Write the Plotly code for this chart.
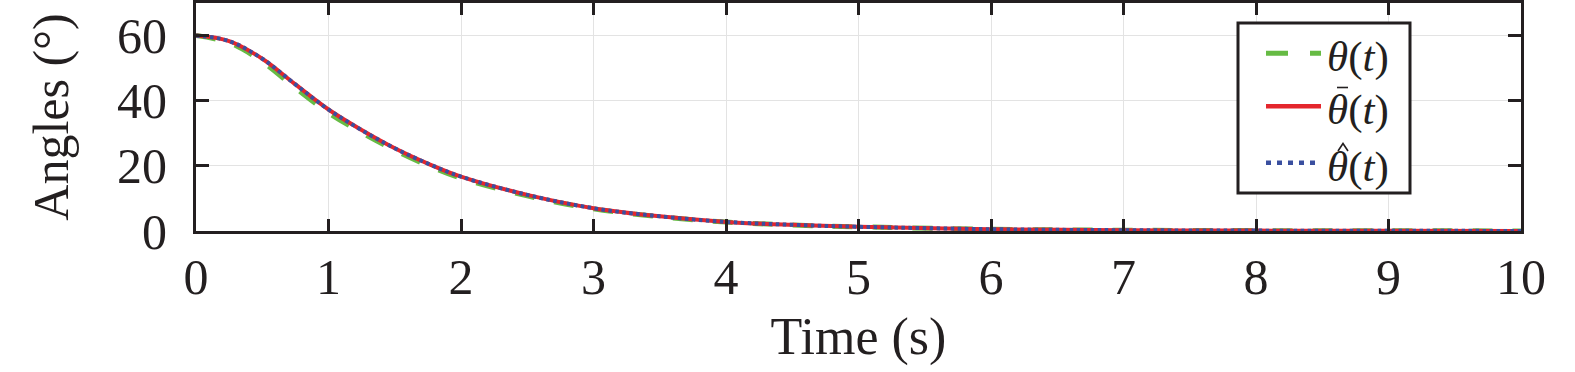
import plotly.graph_objects as go

# ---- data ----
time_s = [0, 0.25, 0.5, 0.75, 1, 1.25, 1.5, 1.75, 2, 2.5, 3, 3.5, 4, 4.5, 5, 6, 7, 8, 9, 10]
theta = [60, 57.8, 52.0, 43.9, 36.3, 30.2, 24.8, 20.1, 16.2, 10.8, 6.8, 4.4, 2.75, 1.85, 1.3, 0.55, 0.25, 0.12, 0.06, 0.03]
theta_bar = [60, 58.3, 52.9, 45.0, 37.3, 31.0, 25.4, 20.7, 16.7, 11.1, 7.0, 4.5, 2.8, 1.9, 1.3, 0.55, 0.25, 0.12, 0.06, 0.03]
theta_hat = [60, 58.3, 52.9, 45.0, 37.3, 31.0, 25.4, 20.7, 16.7, 11.1, 7.0, 4.5, 2.8, 1.9, 1.3, 0.55, 0.25, 0.12, 0.06, 0.03]
x_ticks = [0, 1, 2, 3, 4, 5, 6, 7, 8, 9, 10]
y_ticks = [0, 20, 40, 60]
labels = ["<i>θ</i>(<i>t</i>)", "<i>θ</i>(<i>t</i>)", "<i>θ</i>(<i>t</i>)"]

GREEN = "#66bb44"
RED = "#e4262d"
BLUE = "#3a4f9f"
INK = "#231f20"
FONT = "Liberation Serif"

fig = go.Figure()
fig.add_trace(go.Scatter(x=time_s, y=theta, mode="lines", line=dict(color=GREEN, width=5, dash="20px,20px", shape="spline"), showlegend=False))
fig.add_trace(go.Scatter(x=time_s, y=theta_bar, mode="lines", line=dict(color=RED, width=4, shape="spline"), showlegend=False))
fig.add_trace(go.Scatter(x=time_s, y=theta_hat, mode="lines", line=dict(color=BLUE, width=4, dash="3.5px,3.5px", shape="spline"), showlegend=False))

L, R, T, B = 196, 1521, 3, 231
W, H = 1575, 372
def px(x):
    return (x - L) / (R - L)
def py(y):
    return (B - y) / (B - T)

# manual legend
shapes = [dict(type="rect", xref="paper", yref="paper", x0=px(1238), x1=px(1410), y0=py(193), y1=py(23),
               line=dict(color=INK, width=3), fillcolor="white", layer="above")]
samples = [(53.3, GREEN, "22px,22px", 5), (106.3, RED, "solid", 4.5), (162.7, BLUE, "5px,6px", 4.5)]
for yy, c, d, w in samples:
    shapes.append(dict(type="line", xref="paper", yref="paper", x0=px(1266), x1=px(1321), y0=py(yy), y1=py(yy),
                       line=dict(color=c, width=w, dash=d), layer="above"))
# accents (bar and hat) drawn as small strokes above theta
shapes.append(dict(type="line", xref="paper", yref="paper", x0=px(1337), x1=px(1348), y0=py(87.5), y1=py(87.5),
                   line=dict(color=INK, width=1.6), layer="above"))
shapes.append(dict(type="path", xref="paper", yref="paper",
                   path=f"M {px(1338)} {py(151)} L {px(1343)} {py(143.5)} L {px(1348)} {py(151)}",
                   line=dict(color=INK, width=1.6), layer="above"))
annotations = []
for (yy, c, d, w), lab in zip(samples, labels):
    annotations.append(dict(xref="paper", yref="paper", x=px(1325), y=py(yy + 4), text=lab, showarrow=False,
                            xanchor="left", yanchor="middle", font=dict(family=FONT, size=43, color=INK)))

fig.update_layout(
    width=W, height=H,
    margin=dict(l=L, r=W - R, t=T, b=H - B, autoexpand=False),
    plot_bgcolor="white", paper_bgcolor="white",
    shapes=shapes, annotations=annotations,
    xaxis=dict(range=[0, 10], tickvals=x_ticks, ticks="inside", ticklen=12, tickwidth=3, tickcolor=INK,
               showline=True, linewidth=3, linecolor=INK, mirror="allticks", automargin=False,
               showgrid=True, gridcolor="#e3e3e3", gridwidth=1, zeroline=False,
               tickfont=dict(family=FONT, size=50, color=INK),
               title=dict(text="Time (s)", font=dict(family=FONT, size=52, color=INK), standoff=14)),
    yaxis=dict(range=[0, 70], tickvals=y_ticks, ticks="inside", ticklen=13, tickwidth=3, tickcolor=INK,
               showline=True, linewidth=3, linecolor=INK, mirror="allticks", automargin=False,
               showgrid=True, gridcolor="#e3e3e3", gridwidth=1, zeroline=False, ticklabelstandoff=16,
               tickfont=dict(family=FONT, size=50, color=INK),
               title=dict(text="Angles (°)", font=dict(family=FONT, size=50, color=INK), standoff=33)),
)
fig.write_html("out.html", config={"displayModeBar": False}, post_script="document.body.style.margin='0px';")
